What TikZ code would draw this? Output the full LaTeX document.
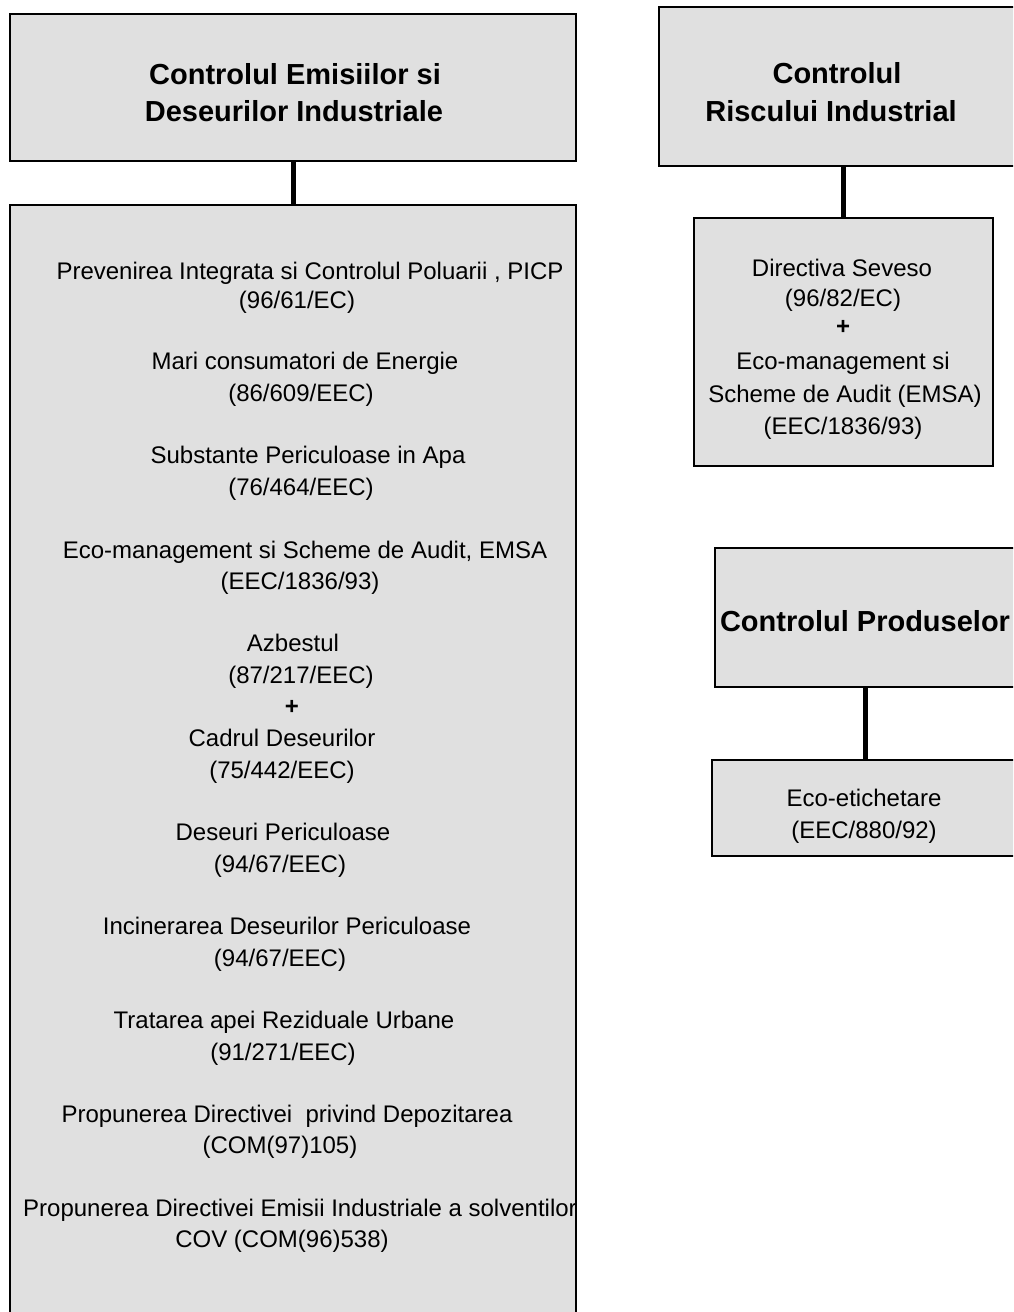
\documentclass[tikz,border=0pt]{standalone}
\usepackage{fontspec}
\setmainfont{Liberation Sans}
\definecolor{boxfill}{RGB}{224,224,224}
\newcommand{\entryfont}{\fontsize{24}{30}\selectfont}
\newcommand{\headfont}{\fontsize{29}{37}\selectfont\bfseries}
\tikzset{
  panel/.style={draw=black, line width=2pt, fill=boxfill, inner sep=0pt},
  entry/.style={font=\entryfont, anchor=base, inner sep=0pt},
  head/.style={font=\headfont, anchor=base, inner sep=0pt},
  link/.style={draw=black, line width=5pt}
}
\begin{document}
\begin{tikzpicture}[x=1pt,y=-1pt]
\useasboundingbox (0,0) rectangle (1013,1312);
\clip (0,0) rectangle (1013,1312);
\fill[white] (0,0) rectangle (1013,1312);

% --- left column: emissions and industrial waste ---
\node[panel, minimum width=566pt, minimum height=147pt] (emis) at (293,87.5) {};
\node[head] (emisA) at (295,84) {Controlul Emisiilor si};
\node[head] (emisB) at (294,121) {Deseurilor Industriale};

\node[panel, minimum width=566pt, minimum height=1125pt] (list) at (293,767.5) {};
\draw[link] (emis.south) -- (emis.south |- list.north);

\node[entry] (l1a) at (310,279) {Prevenirea Integrata si Controlul Poluarii , PICP};
\node[entry] (l1b) at (297,308) {(96/61/EC)};
\node[entry] (l2a) at (305,369) {Mari consumatori de Energie};
\node[entry] (l2b) at (301,401) {(86/609/EEC)};
\node[entry] (l3a) at (308,463) {Substante Periculoase in Apa};
\node[entry] (l3b) at (301,495) {(76/464/EEC)};
\node[entry] (l4a) at (305,558) {Eco-management si Scheme de Audit, EMSA};
\node[entry] (l4b) at (300,589) {(EEC/1836/93)};
\node[entry] (l5a) at (293,651) {Azbestul};
\node[entry] (l5b) at (301,683) {(87/217/EEC)};
\node[entry] (l5c) at (292,714) {\textbf{+}};
\node[entry] (l5d) at (282,746) {Cadrul Deseurilor};
\node[entry] (l5e) at (282,778) {(75/442/EEC)};
\node[entry] (l6a) at (283,840) {Deseuri Periculoase};
\node[entry] (l6b) at (280,872) {(94/67/EEC)};
\node[entry] (l7a) at (287,934) {Incinerarea Deseurilor Periculoase};
\node[entry] (l7b) at (280,966) {(94/67/EEC)};
\node[entry] (l8a) at (284,1028) {Tratarea apei Reziduale Urbane};
\node[entry] (l8b) at (283,1060) {(91/271/EEC)};
\node[entry] (l9a) at (287,1122) {Propunerea Directivei\ \ privind Depozitarea};
\node[entry] (l9b) at (280,1153) {(COM(97)105)};
\node[entry] (l10a) at (300,1216) {Propunerea Directivei Emisii Industriale a solventilor};
\node[entry] (l10b) at (282,1247) {COV (COM(96)538)};

% --- right column: industrial risk ---
\node[panel, minimum width=368pt, minimum height=159pt] (risc) at (843,86.5) {};
\node[head] (riscA) at (837,83) {Controlul};
\node[head] (riscB) at (831,121) {Riscului Industrial};

\node[panel, minimum width=299pt, minimum height=248pt] (seveso) at (843.5,342) {};
\draw[link] (risc.south) -- (risc.south |- seveso.north);

\node[entry] (s1) at (842,276) {Directiva Seveso};
\node[entry] (s2) at (843,306) {(96/82/EC)};
\node[entry] (s3) at (843,334) {\textbf{+}};
\node[entry] (s4) at (843,369) {Eco-management si};
\node[entry] (s5) at (845,402) {Scheme de Audit (EMSA)};
\node[entry] (s6) at (843,434) {(EEC/1836/93)};

% --- right column: products ---
\node[panel, minimum width=300pt, minimum height=139pt] (prod) at (865,617.5) {};
\node[head] (prodA) at (865,631) {Controlul Produselor};

\node[panel, minimum width=304pt, minimum height=96pt] (eco) at (864,808) {};
\draw[link] (prod.south) -- (prod.south |- eco.north);

\node[entry] (e1) at (864,806) {Eco-etichetare};
\node[entry] (e2) at (864,838) {(EEC/880/92)};
\end{tikzpicture}
\end{document}
